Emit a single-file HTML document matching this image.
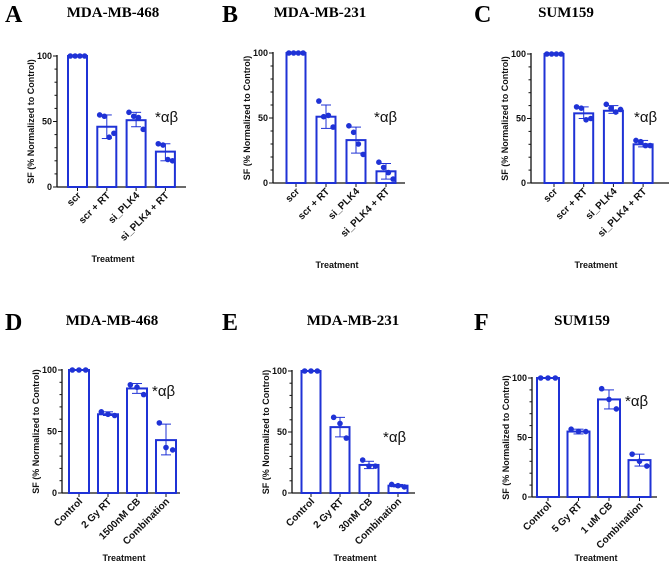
<!DOCTYPE html>
<html><head><meta charset="utf-8">
<style>
html,body{margin:0;padding:0;background:#fff;}
svg{display:block;}
.ttl{font-family:"Liberation Serif",serif;font-weight:bold;}
.ax{font-family:"Liberation Sans",sans-serif;font-weight:bold;font-size:9px;fill:#111;}
.xl{font-family:"Liberation Sans",sans-serif;font-weight:bold;font-size:10px;fill:#111;}
</style></head>
<body>
<svg id="fig" width="669" height="567" viewBox="0 0 669 567" xmlns="http://www.w3.org/2000/svg"></svg>
<script>
// ---- data ----
const catsTop = ["scr","scr + RT","si_PLK4","si_PLK4 + RT"];
const catsD = ["Control","2 Gy RT","1500nM CB","Combination"];
const catsE = ["Control","2 Gy RT","30nM CB","Combination"];
const catsF = ["Control","5 Gy RT","1 uM CB","Combination"];

const meanA = [100,46,51,27];
const ptsA = [[100,100,100,100],[55,54,38,41],[57,54,53,44],[33,32,21,20]];
const errA = [[100,100],[37,55],[46,57],[20,33]];

const meanB = [100,51,33,9];
const ptsB = [[100,100,100,100],[63,51,52,43],[44,39,30,22],[16,12,8,3]];
const errB = [[100,100],[42,60],[23,43],[3,15]];

const meanC = [100,54,56,30];
const ptsC = [[100,100,100,100],[59,58,49,50],[61,58,55,57],[33,32,29,29]];
const errC = [[100,100],[50,59],[54,60],[28,33]];

const meanD = [100,64,85,43];
const ptsD = [[100,100,100],[66,64,63],[88,86,80],[57,37,35]];
const errD = [[100,100],[63,66],[81,89],[31,56]];

const meanE = [100,54,23,6];
const ptsE = [[100,100,100],[62,57,45],[27,22,22],[7,6,5]];
const errE = [[100,100],[46,62],[20,26],[5,7]];

const meanF = [100,55,82,31];
const ptsF = [[100,100,100],[57,55,55],[91,82,74],[36,30,26]];
const errF = [[100,100],[53,57],[74,90],[26,36]];

const yTicks = [0,50,100];

// ---- layout ----
const panels = [
 {id:"a",letter:"A",title:"MDA-MB-468",cats:catsTop,mean:meanA,pts:ptsA,err:errA,ax:57,x1:186,yTop:56,y0:187,c0:77.5,step:29.3,bw:19,lx:5,ly:22,tx:113,ty:17,trx:113,try_:262,sx:155,sy:122},
 {id:"b",letter:"B",title:"MDA-MB-231",cats:catsTop,mean:meanB,pts:ptsB,err:errB,ax:273,x1:405,yTop:53,y0:183,c0:296,step:30,bw:19,lx:222,ly:22,tx:320,ty:17,trx:337,try_:268,sx:374,sy:122},
 {id:"c",letter:"C",title:"SUM159",cats:catsTop,mean:meanC,pts:ptsC,err:errC,ax:531,x1:669,yTop:54,y0:183,c0:554,step:29.7,bw:19,lx:474,ly:22,tx:566,ty:17,trx:596,try_:268,sx:634,sy:122},
 {id:"d",letter:"D",title:"MDA-MB-468",cats:catsD,mean:meanD,pts:ptsD,err:errD,ax:62,x1:180,yTop:370,y0:493,c0:79,step:29,bw:20,lx:5,ly:330,tx:112,ty:325,trx:124,try_:561,sx:152,sy:396},
 {id:"e",letter:"E",title:"MDA-MB-231",cats:catsE,mean:meanE,pts:ptsE,err:errE,ax:292,x1:415,yTop:371,y0:493,c0:311,step:29,bw:19,lx:222,ly:330,tx:353,ty:325,trx:355,try_:561,sx:383,sy:442},
 {id:"f",letter:"F",title:"SUM159",cats:catsF,mean:meanF,pts:ptsF,err:errF,ax:532,x1:657,yTop:378,y0:497,c0:548,step:30.5,bw:22,lx:474,ly:330,tx:582,ty:325,trx:596,try_:561,sx:625,sy:406}
];
const BLUE="#1f32d6";
const svg=document.getElementById("fig");
const NS="http://www.w3.org/2000/svg";
function mk(tag,attrs,parent){const e=document.createElementNS(NS,tag);for(const k in attrs)e.setAttribute(k,attrs[k]);(parent||svg).appendChild(e);return e;}

panels.forEach(p=>{
  const g=mk("g",{});
  
  
  const Y=v=>p.y0-(v/100)*(p.y0-p.yTop);
  const X=i=>p.c0+i*p.step;
  let t=mk("text",{x:p.lx,y:p.ly,class:"ttl","font-size":"24"},g);t.textContent=p.letter;
  
  
  t=mk("text",{x:p.tx,y:p.ty,class:"ttl","font-size":"15","text-anchor":"middle"},g);t.textContent=p.title;
  
  
  let l=mk("line",{x1:p.ax,y1:p.yTop-1,x2:p.ax,y2:p.y0,stroke:"#111","stroke-width":1.3},g);
  
  
  l=mk("line",{x1:p.ax,y1:p.y0,x2:p.x1,y2:p.y0,stroke:"#111","stroke-width":1.3},g);
  
  
  for(let v=0;v<=100;v+=10){
    const major=yTicks.indexOf(v)>=0;
    mk("line",{x1:p.ax-(major?4:2.5),y1:Y(v),x2:p.ax,y2:Y(v),stroke:"#111","stroke-width":1},g);
  }
  yTicks.forEach(v=>{
    const tt=mk("text",{x:p.ax-5,y:Y(v)+3,class:"ax","text-anchor":"end"},g);tt.textContent=v;
    
    
  });
  const mid=(p.yTop+p.y0)/2;
  t=mk("text",{x:0,y:0,class:"ax","text-anchor":"middle",transform:`translate(${p.ax-23},${mid}) rotate(-90)`},g);
  t.textContent="SF (% Normalized to Control)";
  
  
  t=mk("text",{x:p.trx,y:p.try_,class:"ax","text-anchor":"middle","font-size":"10"},g);t.textContent="Treatment";
  
  
  p.cats.forEach((c,i)=>{
    const cx=X(i);
    mk("line",{x1:cx,y1:p.y0,x2:cx,y2:p.y0+4,stroke:"#111","stroke-width":1},g);
    const lt=mk("text",{x:0,y:0,class:"xl","text-anchor":"end",transform:`translate(${cx+4},${p.y0+9}) rotate(-45)`},g);
    lt.textContent=c;
    
    
    const b=mk("rect",{x:cx-p.bw/2,y:Y(p.mean[i]),width:p.bw,height:p.y0-Y(p.mean[i]),fill:"#fff",stroke:BLUE,"stroke-width":2},g);
    
    
    const [lo,hi]=p.err[i];
    if(hi>lo){
      const eg=mk("g",{stroke:BLUE,"stroke-width":1},g);
      
      
      mk("line",{x1:cx,y1:Y(lo),x2:cx,y2:Y(hi)},eg);
      mk("line",{x1:cx-5,y1:Y(lo),x2:cx+5,y2:Y(lo)},eg);
      mk("line",{x1:cx-5,y1:Y(hi),x2:cx+5,y2:Y(hi)},eg);
    }
    const n=p.pts[i].length;
    p.pts[i].forEach((v,k)=>{
      const off=(k-(n-1)/2)*(p.bw/(n));
      const d=mk("circle",{cx:cx+off,cy:Y(v),r:2.8,fill:BLUE},g);
      
      
    });
  });
  t=mk("text",{x:p.sx,y:p.sy,"font-family":"Liberation Sans, DejaVu Sans, sans-serif","font-size":"15",fill:"#111"},g);
  t.textContent="*αβ";
  
  
});
</script>
</body></html>
